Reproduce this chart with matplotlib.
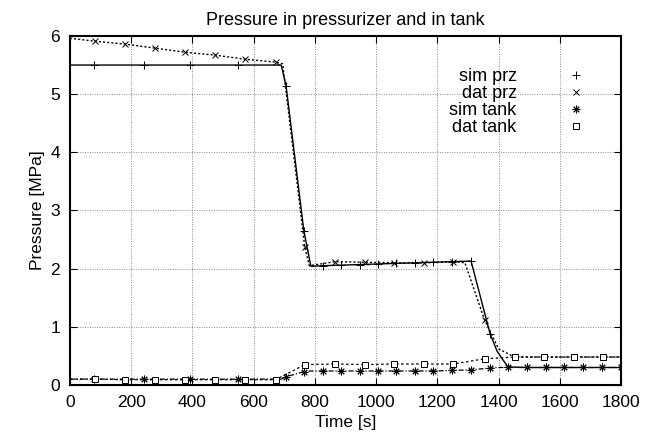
import matplotlib
matplotlib.use("Agg")
import matplotlib.pyplot as plt

plt.rcParams['font.family'] = ['Liberation Sans', 'DejaVu Sans']

# simulation samples (shared time axis for both sim series)
sim_t = [0, 79, 243, 393, 548, 690, 706, 764, 787, 826, 885, 947, 1007, 1066, 1127,
         1187, 1249, 1310, 1372, 1395, 1430, 1492, 1554, 1615, 1676, 1737, 1798]
sim_prz = [5.5, 5.5, 5.5, 5.5, 5.5, 5.5, 5.14, 2.65, 2.04, 2.05, 2.06, 2.07, 2.08, 2.09, 2.1,
           2.11, 2.12, 2.13, 0.88, 0.58, 0.31, 0.3, 0.3, 0.3, 0.3, 0.3, 0.3]
sim_tank = [0.1, 0.1, 0.1, 0.1, 0.1, 0.1, 0.14, 0.23, 0.24, 0.24, 0.24, 0.24, 0.24, 0.24, 0.24,
            0.24, 0.25, 0.26, 0.29, 0.3, 0.3, 0.3, 0.3, 0.3, 0.3, 0.3, 0.3]
sim_marks = [1, 2, 3, 4, 6, 7, 9, 10, 11, 12, 13, 14, 15, 16, 17, 18, 20, 21, 22, 23, 24, 25, 26]

# measured data
dat_prz_t = [0, 82, 180, 279, 377, 475, 573, 672, 695, 767, 782, 866, 964, 1059, 1157,
             1252, 1290, 1354, 1400, 1452, 1548, 1645, 1742, 1800]
dat_prz = [5.96, 5.91, 5.86, 5.79, 5.72, 5.67, 5.6, 5.55, 5.52, 2.37, 2.05, 2.12, 2.11, 2.1, 2.1,
           2.12, 2.1, 1.12, 0.62, 0.48, 0.48, 0.48, 0.48, 0.48]
dat_prz_marks = [1, 2, 3, 4, 5, 6, 7, 9, 11, 12, 13, 14, 15, 17, 19, 20, 21, 22]

dat_tank_t = [0, 82, 180, 279, 377, 475, 573, 672, 767, 866, 964, 1059, 1157, 1252,
              1354, 1452, 1548, 1645, 1742, 1800]
dat_tank = [0.1, 0.1, 0.09, 0.09, 0.09, 0.09, 0.09, 0.09, 0.35, 0.36, 0.35, 0.36, 0.36, 0.36,
            0.45, 0.48, 0.48, 0.48, 0.48, 0.48]
dat_tank_marks = list(range(1, 19))

fig = plt.figure(figsize=(6.47, 4.44), dpi=100)
ax = fig.add_axes([0.108, 0.133, 0.852, 0.786])

ax.plot(sim_t, sim_prz, color='black', lw=1.0, marker='+', ms=6, mew=0.7,
        markevery=sim_marks, label='sim prz')
ax.plot(dat_prz_t, dat_prz, color='black', lw=1.0, ls=(0, (1.5, 1.5)), marker='x', ms=5, mew=0.7,
        markevery=dat_prz_marks, label='dat prz')
ax.plot(sim_t, sim_tank, color='black', lw=0.9, ls=(0, (4, 1.5, 1, 1.5)), marker=(8, 2, 0), ms=5.5,
        mew=0.7, markevery=sim_marks, label='sim tank')
ax.plot(dat_tank_t, dat_tank, color='black', lw=0.9, ls=(0, (2, 2)), marker='s', ms=5, mew=0.7,
        mfc='white', markevery=dat_tank_marks, label='dat tank')

# legend: gnuplot style, marker only, to the right of the text
handles, labels = ax.get_legend_handles_labels()
leg = ax.legend(handles, labels, loc='upper right', bbox_to_anchor=(0.958, 0.955), frameon=False,
                markerfirst=False, handlelength=0.6, handletextpad=3.0, labelspacing=0.0,
                fontsize=13)
for h in leg.legend_handles:
    h.set_linestyle('None')

ax.set_xlim(0, 1800)
ax.set_ylim(0, 6)
ax.set_xticks(range(0, 1801, 200))
ax.set_yticks(range(0, 7))
ax.grid(True, color='#888888', ls=(0, (1, 1.5)), lw=0.7)
ax.tick_params(direction='in', top=True, right=True, length=5, labelsize=12.5, pad=7)
for s in ax.spines.values():
    s.set_linewidth(1.5)

ax.set_xlabel('Time [s]', fontsize=12.5)
ax.set_ylabel('Pressure [MPa]', fontsize=12.5)
ax.set_title('Pressure in pressurizer and in tank', fontsize=13, pad=8)

fig.savefig('out.png', dpi=100)
